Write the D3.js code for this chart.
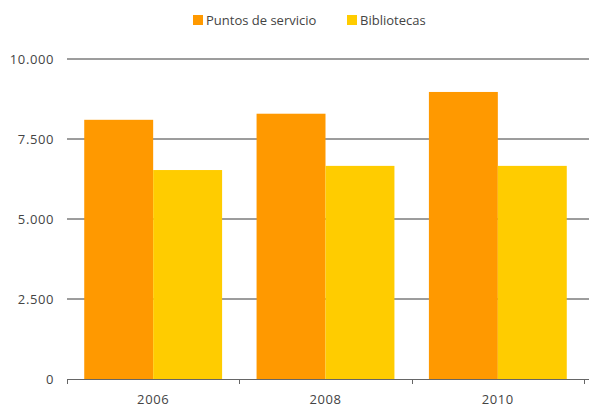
<!DOCTYPE html>
<html><head><meta charset="utf-8">
<script src="https://cdn.jsdelivr.net/npm/d3@7"></script>
<style>
html,body{margin:0;padding:0;background:#fff;}
svg{display:block;font-family:"Open Sans",Lato,sans-serif;}
</style></head>
<body><svg id="c" width="589" height="407"></svg>
<script>
const categories = ["2006", "2008", "2010"];
const seriesNames = ["Puntos de servicio", "Bibliotecas"];
const puntosValues = [8100, 8290, 8970];
const bibliotecasValues = [6530, 6660, 6660];
const yTicks = [0, 2500, 5000, 7500, 10000];
const colors = ["#FF9900", "#FFCC00"];

(function(){
const svg = d3.select("#c");
const W = 589, H = 407;
const mLeft = 67, mRight = 584, mTop = 59, mBottom = 379;

const locale = d3.formatLocale({decimal: ",", thousands: ".", grouping: [3], currency: ["", "€"]});
const fmt = locale.format(",.0f");

const x = d3.scaleBand().domain(categories).range([mLeft, mRight]).paddingInner(0.2).paddingOuter(0.1);
const xs = d3.scaleBand().domain(seriesNames).range([0, x.bandwidth()]);
const y = d3.scaleLinear().domain([0, 10000]).range([mBottom, mTop]);

const data = categories.map((c, i) => ({cat: c, vals: [puntosValues[i], bibliotecasValues[i]]}));

// gridlines
svg.append("g").selectAll("line").data(yTicks.filter(d => d > 0)).join("line")
  .attr("x1", mLeft).attr("x2", W)
  .attr("y1", d => y(d)).attr("y2", d => y(d))
  .attr("stroke", "#3a3a3a").attr("stroke-width", 1);

// y labels
svg.append("g").selectAll("text").data(yTicks).join("text")
  .attr("x", 54).attr("y", d => y(d)).attr("dy", "0.36em")
  .attr("text-anchor", "end").attr("font-size", 13).attr("letter-spacing", "0.6px").attr("fill", "#444")
  .text(d => fmt(d));

// bars
const groups = svg.append("g").selectAll("g").data(data).join("g")
  .attr("transform", d => `translate(${x(d.cat)},0)`);
groups.selectAll("rect").data(d => d.vals.map((v, j) => ({name: seriesNames[j], v, j}))).join("rect")
  .attr("x", d => xs(d.name)).attr("width", xs.bandwidth())
  .attr("y", d => y(d.v)).attr("height", d => y(0) - y(d.v))
  .attr("fill", d => colors[d.j]);

// x axis
const step = x.step();
const boundaries = categories.map((c, i) => x(c) - x.paddingOuter() * step);
boundaries.push(mRight);
svg.append("line").attr("x1", mLeft).attr("x2", W).attr("y1", mBottom + 0.5).attr("y2", mBottom + 0.5)
  .attr("stroke", "#666").attr("stroke-width", 1);
svg.append("g").selectAll("line").data(boundaries).join("line")
  .attr("x1", d => Math.round(d) + 0.5).attr("x2", d => Math.round(d) + 0.5)
  .attr("y1", mBottom).attr("y2", mBottom + 5)
  .attr("stroke", "#666");
svg.append("g").selectAll("text").data(categories).join("text")
  .attr("x", d => x(d) + x.bandwidth() / 2).attr("y", 403.5)
  .attr("text-anchor", "middle").attr("font-size", 13).attr("letter-spacing", "0.6px").attr("fill", "#444")
  .text(d => d);

// legend
const legend = [{name: seriesNames[0], x: 193}, {name: seriesNames[1], x: 347}];
const lg = svg.append("g").selectAll("g").data(legend).join("g")
  .attr("transform", d => `translate(${d.x},15)`);
lg.append("rect").attr("width", 10).attr("height", 10).attr("fill", (d, i) => colors[i]);
lg.append("text").attr("x", 13).attr("y", 5).attr("dy", "0.36em")
  .attr("font-size", 13).attr("fill", "#444").text(d => d.name);
})();
</script></body></html>
